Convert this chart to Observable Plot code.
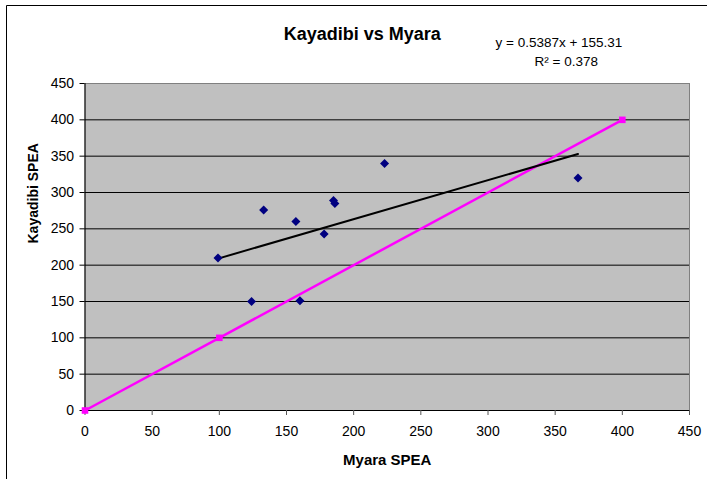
<!DOCTYPE html>
<html>
<head>
<meta charset="utf-8">
<script src="https://cdn.jsdelivr.net/npm/d3@7"></script>
<script src="https://cdn.jsdelivr.net/npm/@observablehq/plot@0.6"></script>
<style>
  html, body { margin: 0; padding: 0; background: #fff; }
  #chart { width: 707px; height: 479px; overflow: hidden; }
</style>
</head>
<body>
<div id="chart"></div>
<script>
// Observed data (Myara SPEA vs Kayadibi SPEA)
const myara    = [99, 133, 157, 178, 185, 186, 223, 124, 160, 367];
const kayadibi = [210, 276, 260, 243, 289, 285, 340, 150, 151, 320];

// 1:1 reference series (magenta)
const refX = [0, 100, 400];
const refY = [0, 100, 400];

// Linear trendline endpoints (black)
const trendX = [99, 367];
const trendY = [209, 353];

// Axis ticks
const xTicks = [0, 50, 100, 150, 200, 250, 300, 350, 400, 450];
const yTicks = [0, 50, 100, 150, 200, 250, 300, 350, 400, 450];
const gridTicks = [50, 100, 150, 200, 250, 300, 350, 400];

const titleText = "Kayadibi vs Myara";
const eqText = "y = 0.5387x + 155.31";
const r2Text = "R\u00B2 = 0.378";
const xLabel = "Myara SPEA";
const yLabel = "Kayadibi SPEA";

const points = myara.map((x, i) => ({x, y: kayadibi[i]}));
const ref = refX.map((x, i) => ({x, y: refY[i]}));
const trend = trendX.map((x, i) => ({x, y: trendY[i]}));

const font = "'Liberation Sans', Arial, Helvetica, sans-serif";

const chart = Plot.plot({
  width: 707,
  height: 479,
  marginLeft: 84.5,
  marginRight: 18,
  marginTop: 83,
  marginBottom: 69,
  style: {fontFamily: font, fontSize: "14px", color: "#000", background: "#fff"},
  x: {domain: [0, 450], ticks: xTicks, label: null},
  y: {domain: [0, 450], ticks: yTicks, label: null},
  marks: [
    Plot.frame({fill: "#C0C0C0", stroke: "#808080"}),
    Plot.ruleY(gridTicks, {stroke: "#000", strokeWidth: 1}),
    Plot.ruleX([0], {stroke: "#000"}),
    Plot.ruleY([0], {stroke: "#000"}),
    Plot.axisX({ticks: xTicks, tickSize: 5, tickPadding: 11, stroke: "#555", fontSize: 14, label: null}),
    Plot.axisY({ticks: yTicks, tickSize: 5, tickPadding: 6, fontSize: 14, label: null}),
    Plot.line(ref, {x: "x", y: "y", stroke: "#FF00FF", strokeWidth: 2.5}),
    Plot.dot(ref, {x: "x", y: "y", symbol: "square", r: 3.7, fill: "#FF00FF", stroke: "none"}),
    Plot.line(trend, {x: "x", y: "y", stroke: "#000", strokeWidth: 2}),
    Plot.dot(points, {x: "x", y: "y", symbol: "square", rotate: 45, r: 3.6, fill: "#000080", stroke: "none"}),
    Plot.text([titleText], {frameAnchor: "top", dx: -25, dy: -49.5, fontSize: 18, fontWeight: "bold", lineAnchor: "middle"}),
    Plot.text([eqText], {frameAnchor: "top-right", dx: -194, dy: -40.6, textAnchor: "start", fontSize: 13.5, lineAnchor: "middle"}),
    Plot.text([r2Text], {frameAnchor: "top-right", dx: -155, dy: -21.6, textAnchor: "start", fontSize: 13.5, lineAnchor: "middle"}),
    Plot.text([xLabel], {frameAnchor: "bottom", dx: 0, dy: 49.5, fontSize: 15, fontWeight: "bold", lineAnchor: "middle"}),
    Plot.text([yLabel], {frameAnchor: "left", dx: -51.5, dy: -3.5, rotate: -90, fontSize: 14, fontWeight: "bold", lineAnchor: "middle"})
  ]
});

// Outer chart border (top and left visible in the reference crop)
d3.select(chart).append("path")
  .attr("d", "M6.5,479V5.5H707")
  .attr("fill", "none")
  .attr("stroke", "#000")
  .attr("stroke-width", 1);

document.getElementById("chart").appendChild(chart);
</script>
</body>
</html>
